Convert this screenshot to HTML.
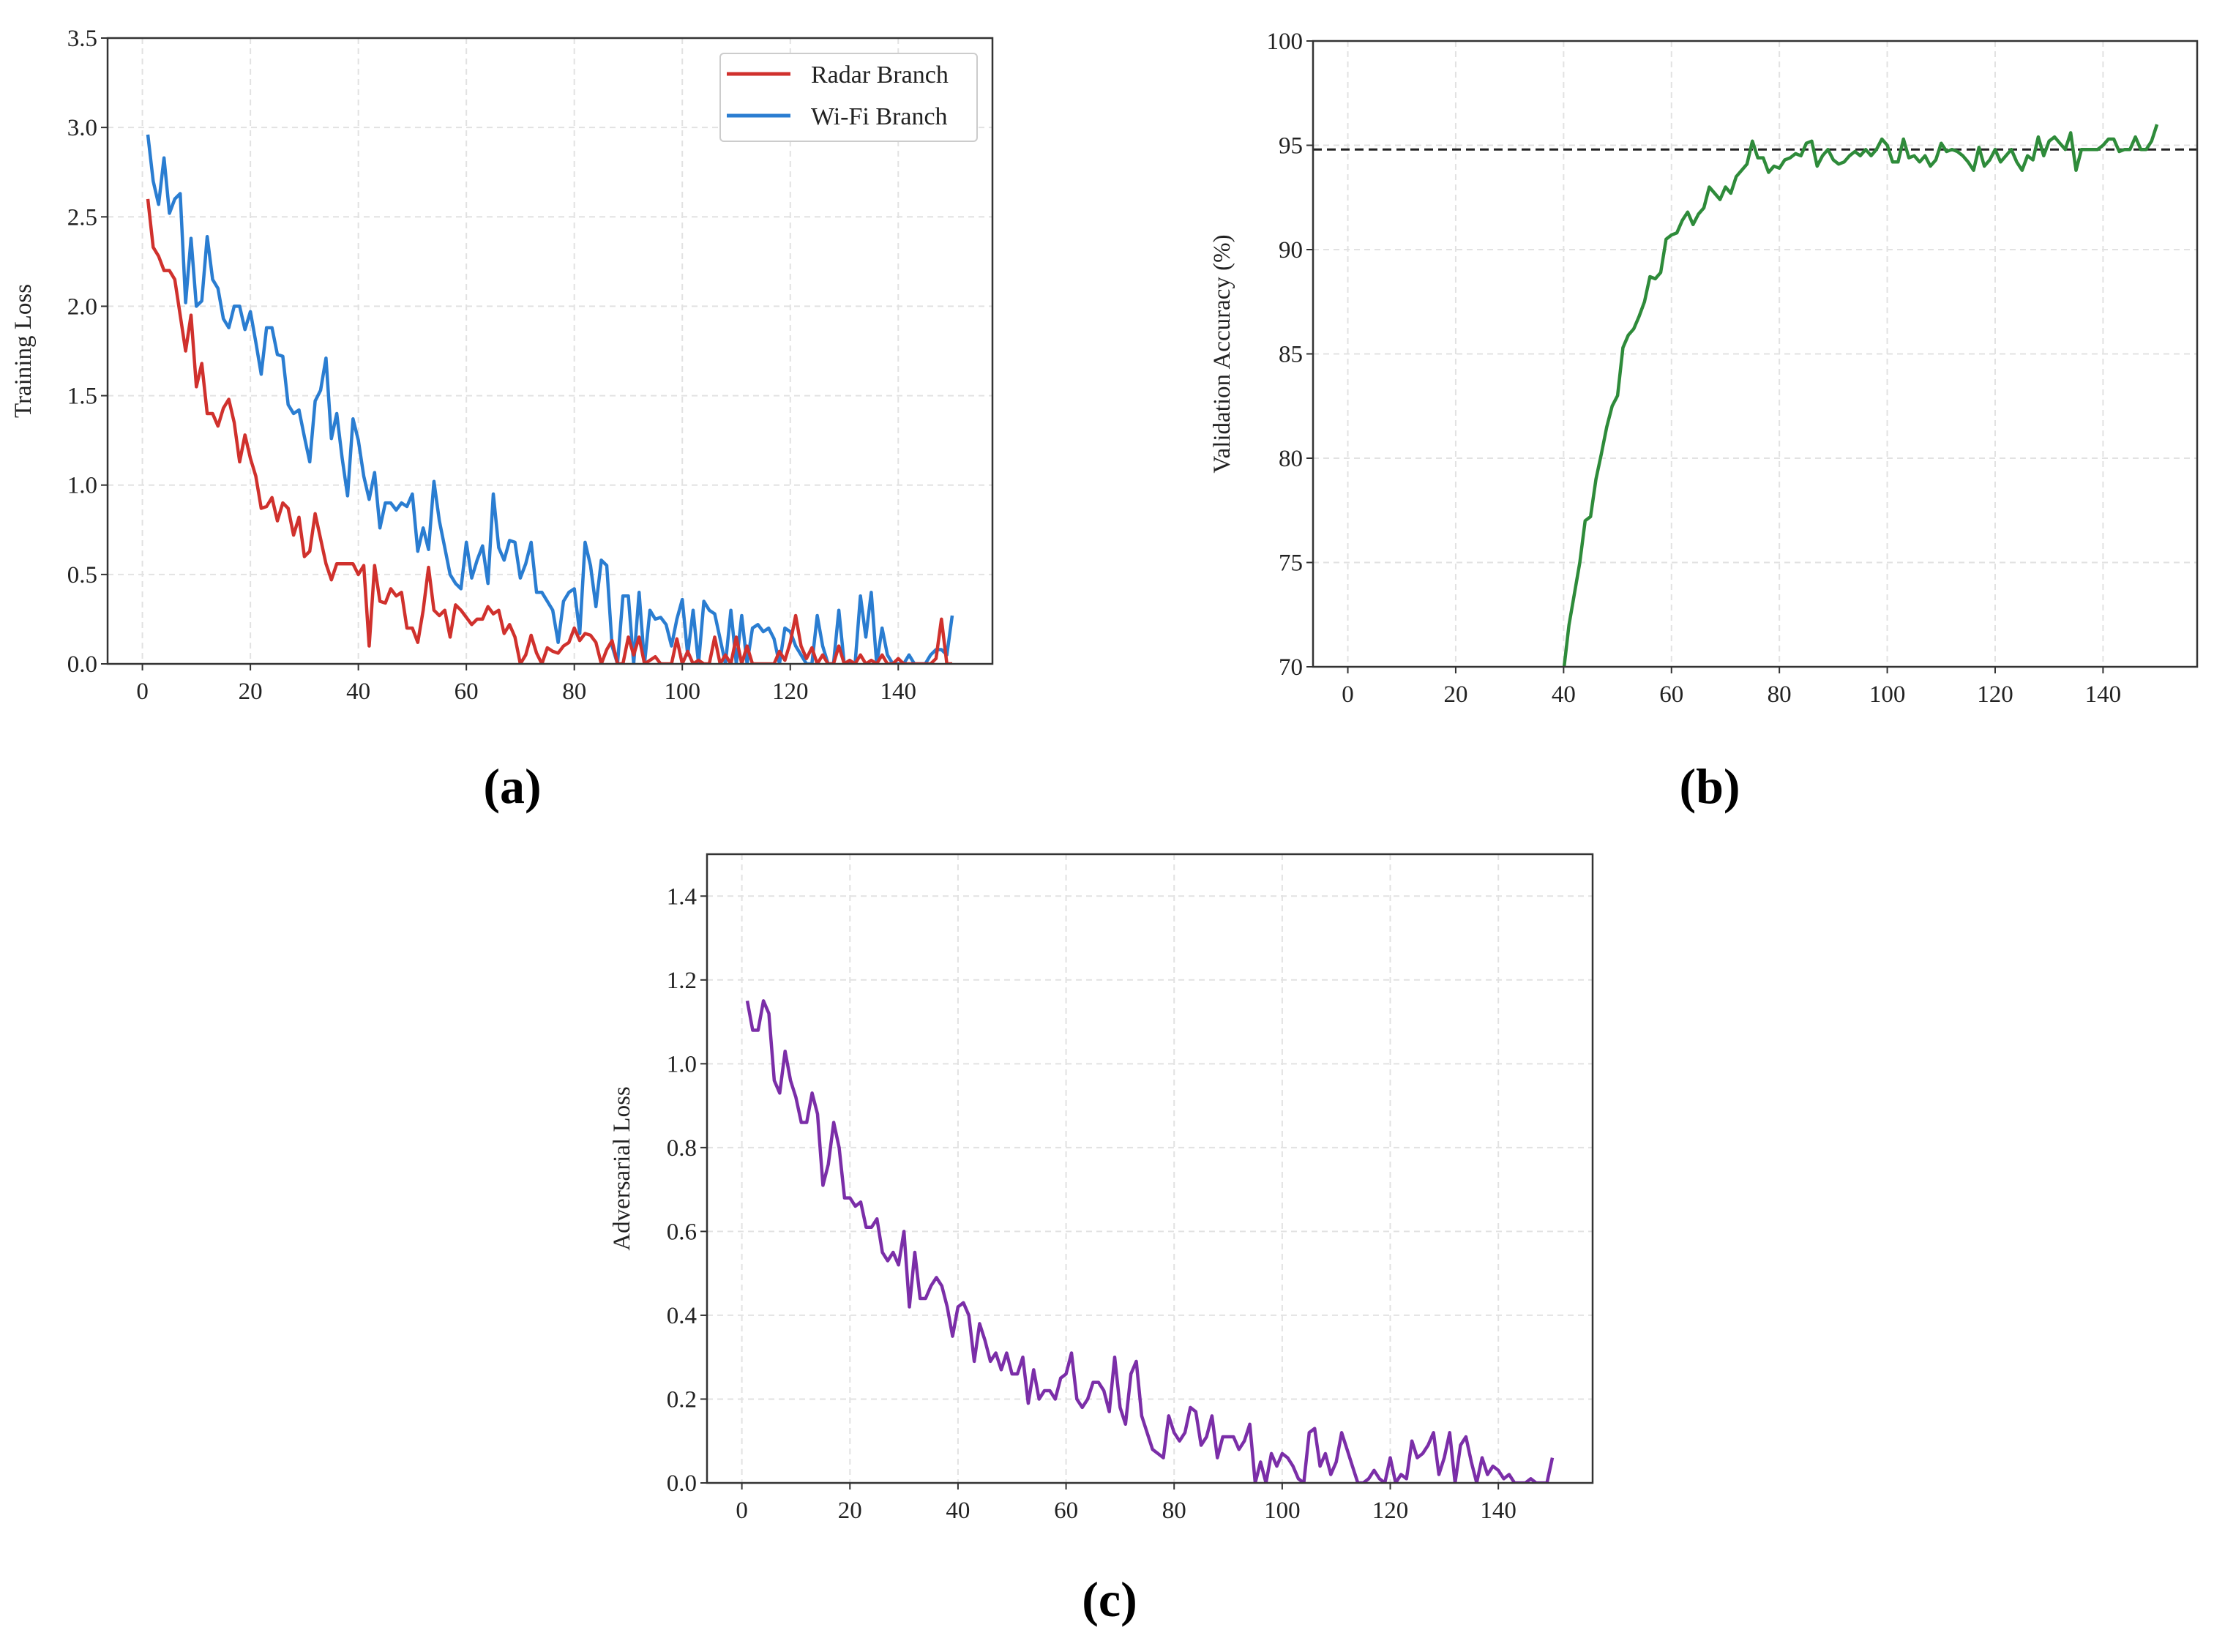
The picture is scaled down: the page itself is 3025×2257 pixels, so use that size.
<!DOCTYPE html>
<html><head><meta charset="utf-8">
<style>
html,body{margin:0;padding:0;background:#fff;}
svg{display:block;font-family:"Liberation Serif",serif;}
</style></head>
<body>
<svg id="fig" width="3025" height="2257" viewBox="0 0 3025 2257" xmlns="http://www.w3.org/2000/svg">
<rect width="3025" height="2257" fill="#fff"/>
<g id="pa"></g>
<g id="pb"></g>
<g id="pc"></g>
<text x="700" y="1097" text-anchor="middle" font-size="68" font-weight="bold">(a)</text>
<text x="2336" y="1097" text-anchor="middle" font-size="68" font-weight="bold">(b)</text>
<text x="1516" y="2208" text-anchor="middle" font-size="68" font-weight="bold">(c)</text>
</svg>
<script>
const xTicks = [0,20,40,60,80,100,120,140];
const ticksA = [0.0,0.5,1.0,1.5,2.0,2.5,3.0,3.5];
const ticksB = [70,75,80,85,90,95,100];
const ticksC = [0.0,0.2,0.4,0.6,0.8,1.0,1.2,1.4];
const radarLoss = [2.6,2.33,2.28,2.2,2.2,2.15,1.95,1.75,1.95,1.55,1.68,1.4,1.4,1.33,1.43,1.48,1.35,1.13,1.28,1.15,1.05,0.87,0.88,0.93,0.8,0.9,0.87,0.72,0.82,0.6,0.63,0.84,0.7,0.56,0.47,0.56,0.56,0.56,0.56,0.5,0.55,0.1,0.55,0.35,0.34,0.42,0.38,0.4,0.2,0.2,0.12,0.3,0.54,0.3,0.27,0.3,0.15,0.33,0.3,0.26,0.22,0.25,0.25,0.32,0.28,0.3,0.17,0.22,0.15,0.0,0.05,0.16,0.06,0.0,0.09,0.07,0.06,0.1,0.12,0.2,0.13,0.17,0.16,0.12,0.0,0.08,0.13,0.0,0.0,0.15,0.05,0.15,0.0,0.02,0.04,0.0,0.0,0.0,0.14,0.0,0.07,0.0,0.02,0.0,0.0,0.15,0.0,0.05,0.0,0.15,0.0,0.1,0.0,0.0,0.0,0.0,0.0,0.07,0.02,0.12,0.27,0.1,0.03,0.09,0.0,0.05,0.0,0.0,0.1,0.0,0.02,0.0,0.05,0.0,0.02,0.0,0.05,0.0,0.0,0.03,0.0,0.0,0.0,0.0,0.0,0.0,0.03,0.25,0.0,0.0];
const wifiLoss = [2.96,2.7,2.57,2.83,2.52,2.6,2.63,2.02,2.38,2.0,2.03,2.39,2.15,2.1,1.93,1.88,2.0,2.0,1.87,1.97,1.8,1.62,1.88,1.88,1.73,1.72,1.45,1.4,1.42,1.27,1.13,1.47,1.53,1.71,1.26,1.4,1.15,0.94,1.37,1.25,1.05,0.92,1.07,0.76,0.9,0.9,0.86,0.9,0.88,0.95,0.63,0.76,0.64,1.02,0.8,0.65,0.5,0.45,0.42,0.68,0.48,0.58,0.66,0.45,0.95,0.65,0.58,0.69,0.68,0.48,0.56,0.68,0.4,0.4,0.35,0.3,0.12,0.35,0.4,0.42,0.17,0.68,0.55,0.32,0.58,0.55,0.1,0.0,0.38,0.38,0.0,0.4,0.0,0.3,0.25,0.26,0.22,0.1,0.25,0.36,0.05,0.3,0.0,0.35,0.3,0.28,0.14,0.0,0.3,0.0,0.27,0.0,0.2,0.22,0.18,0.2,0.14,0.0,0.2,0.18,0.1,0.05,0.0,0.0,0.27,0.1,0.0,0.0,0.3,0.0,0.0,0.0,0.38,0.15,0.4,0.0,0.2,0.05,0.0,0.0,0.0,0.05,0.0,0.0,0.0,0.05,0.08,0.08,0.05,0.27];
const valAcc = [40,41,42,43,44,45,46,47,48,49,50,51,52,53,54,55,56,57,58,59,60,61,62,63,64,65,66,67,68,69,69.1,69.2,69.3,69.4,69.5,69.6,69.7,69.8,69.9,69.8,72,73.5,75,77,77.2,79,80.2,81.5,82.5,83,85.3,85.9,86.2,86.8,87.5,88.7,88.6,88.9,90.5,90.7,90.8,91.4,91.8,91.2,91.7,92.0,93.0,92.7,92.4,93.0,92.7,93.5,93.8,94.1,95.2,94.4,94.4,93.7,94.0,93.9,94.3,94.4,94.6,94.5,95.1,95.2,94.0,94.5,94.8,94.3,94.1,94.2,94.5,94.7,94.5,94.8,94.5,94.8,95.3,95.0,94.2,94.2,95.3,94.4,94.5,94.2,94.5,94.0,94.3,95.1,94.7,94.8,94.7,94.5,94.2,93.8,94.9,94.0,94.3,94.8,94.2,94.5,94.8,94.2,93.8,94.5,94.3,95.4,94.5,95.2,95.4,95.1,94.8,95.6,93.8,94.8,94.8,94.8,94.8,95.0,95.3,95.3,94.7,94.8,94.8,95.4,94.8,94.8,95.2,96.0];
const valRef = [94.8];
const advLoss = [1.15,1.08,1.08,1.15,1.12,0.96,0.93,1.03,0.96,0.92,0.86,0.86,0.93,0.88,0.71,0.76,0.86,0.8,0.68,0.68,0.66,0.67,0.61,0.61,0.63,0.55,0.53,0.55,0.52,0.6,0.42,0.55,0.44,0.44,0.47,0.49,0.47,0.42,0.35,0.42,0.43,0.4,0.29,0.38,0.34,0.29,0.31,0.27,0.31,0.26,0.26,0.3,0.19,0.27,0.2,0.22,0.22,0.2,0.25,0.26,0.31,0.2,0.18,0.2,0.24,0.24,0.22,0.17,0.3,0.18,0.14,0.26,0.29,0.16,0.12,0.08,0.07,0.06,0.16,0.12,0.1,0.12,0.18,0.17,0.09,0.11,0.16,0.06,0.11,0.11,0.11,0.08,0.1,0.14,0.0,0.05,0.0,0.07,0.04,0.07,0.06,0.04,0.01,0.0,0.12,0.13,0.04,0.07,0.02,0.05,0.12,0.08,0.04,0.0,0.0,0.01,0.03,0.01,0.0,0.06,0.0,0.02,0.01,0.1,0.06,0.07,0.09,0.12,0.02,0.06,0.12,0.0,0.09,0.11,0.05,0.0,0.06,0.02,0.04,0.03,0.01,0.02,0.0,0.0,0.0,0.01,0.0,0.0,0.0,0.06];

const NS="http://www.w3.org/2000/svg";
function mk(tag, attrs, parent){const e=document.createElementNS(NS,tag);for(const k in attrs)e.setAttribute(k,attrs[k]);parent.appendChild(e);return e;}

function panel(g, box, ymin, ymax, yticks, fmt, ylabel, labelX, id){
  const xmin=-6.45, xmax=157.45;
  const sx=v=>box.l+(v-xmin)/(xmax-xmin)*(box.r-box.l);
  const sy=v=>box.b-(v-ymin)/(ymax-ymin)*(box.b-box.t);
  const cp=mk('clipPath',{id:'clip'+id},g);
  mk('rect',{x:box.l,y:box.t,width:box.r-box.l,height:box.b-box.t},cp);
  xTicks.forEach(t=>{
    const gl=mk('line',{x1:sx(t),x2:sx(t),y1:box.t,y2:box.b,stroke:'#e2e2e2','stroke-width':2,'stroke-dasharray':'8 6'},g);
    
    
    mk('line',{x1:sx(t),x2:sx(t),y1:box.b,y2:box.b+9,stroke:'#333','stroke-width':2},g);
    const tx=mk('text',{x:sx(t),y:box.b+48,'text-anchor':'middle','font-size':33,fill:'#222'},g);
    tx.textContent=t;
    
    
  });
  yticks.forEach(t=>{
    const gl=mk('line',{x1:box.l,x2:box.r,y1:sy(t),y2:sy(t),stroke:'#e2e2e2','stroke-width':2,'stroke-dasharray':'8 6'},g);
    
    
    mk('line',{x1:box.l-9,x2:box.l,y1:sy(t),y2:sy(t),stroke:'#333','stroke-width':2},g);
    const tx=mk('text',{x:box.l-14,y:sy(t)+11,'text-anchor':'end','font-size':33,fill:'#222'},g);
    tx.textContent=fmt(t);
    
    
  });
  const yl=mk('text',{x:labelX,y:(box.t+box.b)/2,'text-anchor':'middle','font-size':33,fill:'#222',transform:`rotate(-90 ${labelX} ${(box.t+box.b)/2})`},g);
  yl.textContent=ylabel;
  
  
  return {sx,sy,clip:'url(#clip'+id+')'};
}
function series(g, ax, vals, color, name){
  const pts=vals.map((v,i)=>ax.sx(i+1).toFixed(1)+','+ax.sy(v).toFixed(1)).join(' ');
  const p=mk('polyline',{points:pts,fill:'none',stroke:color,'stroke-width':4.5,'stroke-linejoin':'round','clip-path':ax.clip},g);
  
  
}
function frame(g, box){
  const f=mk('rect',{x:box.l,y:box.t,width:box.r-box.l,height:box.b-box.t,fill:'none',stroke:'#333','stroke-width':2.5},g);
  
  
}

// Panel A
const gA=document.getElementById('pa');
const boxA={l:147,r:1356,t:52,b:907};
const axA=panel(gA,boxA,0,3.5,ticksA,v=>v.toFixed(1),'Training Loss',42,'a');
series(gA,axA,wifiLoss,'#2a7dd1','wifi-branch-line');
series(gA,axA,radarLoss,'#d0312d','radar-branch-line');
frame(gA,boxA);
const lg=mk('g',{},gA);


mk('rect',{x:984,y:73,width:351,height:120,rx:5,fill:'#fff',stroke:'#ccc','stroke-width':2},lg);
mk('line',{x1:993,x2:1080,y1:101,y2:101,stroke:'#d0312d','stroke-width':5},lg);
mk('line',{x1:993,x2:1080,y1:158,y2:158,stroke:'#2a7dd1','stroke-width':5},lg);
const l1=mk('text',{x:1108,y:113,'font-size':34,fill:'#222'},lg);l1.textContent='Radar Branch';


const l2=mk('text',{x:1108,y:170,'font-size':34,fill:'#222'},lg);l2.textContent='Wi-Fi Branch';



// Panel B
const gB=document.getElementById('pb');
const boxB={l:1794,r:3002,t:56,b:911};
const axB=panel(gB,boxB,70,100,ticksB,v=>String(v),'Validation Accuracy (%)',1680,'b');
const ref=mk('line',{x1:boxB.l,x2:boxB.r,y1:axB.sy(valRef[0]),y2:axB.sy(valRef[0]),stroke:'#222','stroke-width':3,'stroke-dasharray':'12 7'},gB);


series(gB,axB,valAcc,'#2e8b3a','validation-accuracy-line');
frame(gB,boxB);

// Panel C
const gC=document.getElementById('pc');
const boxC={l:966,r:2176,t:1167,b:2026};
const axC=panel(gC,boxC,0,1.5,ticksC,v=>v.toFixed(1),'Adversarial Loss',860,'c');
series(gC,axC,advLoss,'#7b2ea8','adversarial-loss-line');
frame(gC,boxC);
</script>
</body></html>
